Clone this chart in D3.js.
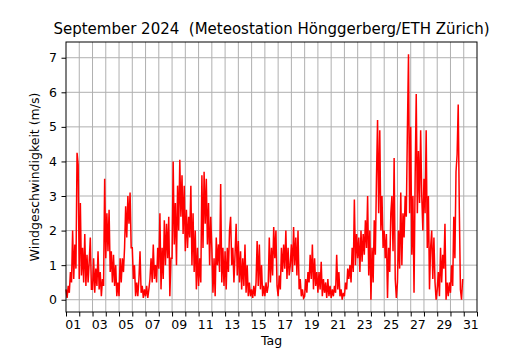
<!DOCTYPE html>
<html>
<head>
<meta charset="utf-8">
<script src="https://cdn.jsdelivr.net/npm/d3@7"></script>
<style>
  body { margin: 0; background: #fff; }
  text { font-family: "DejaVu Sans", sans-serif; }
</style>
</head>
<body>
<div id="chart"></div>
<script>
const title = "September 2024  (Meteostation Hönggerberg/ETH Zürich)";
const xTitle = "Tag";
const yTitle = "Windgeschwindigkeit (m/s)";

// day boundaries (ticks + grid) and labels at midday
const dayTicks = d3.range(1, 33);
const dayLabels = ["01","03","05","07","09","11","13","15","17","19","21","23","25","27","29","31"];
const yTicks = [0, 1, 2, 3, 4, 5, 6, 7];

// wind speed, one row per day, every 2 hours
const samplesPerDay = 12;
const windByDay = [
  [0.3, 0.05, 0.4, 0.2, 0.8, 0.5, 2.0, 0.6, 1.6, 0.9, 4.25, 3.9],
  [0.6, 2.8, 0.7, 1.5, 0.5, 1.9, 0.4, 1.3, 0.5, 1.1, 1.8, 0.3],
  [0.3, 1.2, 0.2, 0.9, 0.4, 1.4, 0.3, 0.8, 0.1, 0.6, 0.4, 3.5],
  [1.2, 2.5, 1.4, 2.6, 0.8, 1.4, 0.5, 1.3, 0.4, 1.0, 0.1, 0.5],
  [0.1, 1.2, 0.5, 1.2, 0.8, 1.5, 2.7, 1.8, 3.0, 2.2, 3.1, 1.5],
  [1.5, 0.6, 1.0, 0.1, 0.5, 0.1, 0.6, 1.4, 0.2, 0.4, 0.05, 0.3],
  [0.1, 0.4, 0.05, 0.3, 0.6, 1.2, 0.5, 1.6, 0.6, 1.0, 0.5, 1.5],
  [0.9, 2.5, 0.3, 1.5, 0.6, 2.3, 1.0, 2.2, 1.2, 2.4, 0.1, 1.2],
  [1.2, 4.0, 1.6, 2.8, 1.0, 3.3, 2.0, 4.05, 2.4, 3.6, 1.9, 3.3],
  [1.4, 2.6, 1.5, 2.4, 1.8, 3.3, 1.0, 2.5, 0.8, 2.0, 0.3, 1.5],
  [0.4, 1.2, 0.5, 3.6, 1.5, 3.7, 2.2, 3.5, 1.6, 2.8, 1.0, 2.4],
  [1.5, 0.2, 1.2, 0.1, 1.8, 1.0, 1.6, 0.8, 3.35, 0.5, 1.5, 0.4],
  [1.4, 0.3, 1.5, 0.8, 2.0, 2.4, 1.0, 1.5, 0.5, 1.3, 2.2, 0.7],
  [1.7, 0.5, 1.4, 0.3, 1.2, 0.4, 1.6, 0.2, 1.0, 0.1, 0.5, 0.1],
  [0.3, 0.05, 0.4, 0.1, 0.5, 1.7, 0.4, 1.6, 0.3, 1.0, 0.1, 0.4],
  [0.1, 0.5, 0.2, 0.4, 1.8, 0.5, 1.5, 0.7, 2.1, 1.2, 2.0, 0.4],
  [0.1, 0.7, 0.3, 1.5, 0.8, 1.6, 0.9, 2.0, 0.6, 1.5, 0.7, 1.0],
  [1.6, 0.8, 2.1, 1.0, 1.8, 0.7, 2.0, 0.3, 0.6, 0.1, 0.3, 0.05],
  [0.1, 0.6, 0.2, 0.8, 0.5, 1.3, 0.6, 1.6, 0.3, 1.2, 0.4, 0.8],
  [0.2, 0.8, 0.3, 1.1, 0.1, 0.6, 0.2, 0.5, 0.05, 0.6, 0.1, 0.4],
  [0.05, 0.3, 0.1, 0.4, 0.2, 1.3, 0.3, 0.8, 0.1, 0.3, 0.0, 0.2],
  [0.1, 0.5, 0.3, 0.9, 0.6, 1.0, 0.5, 1.5, 0.8, 2.9, 1.0, 1.9],
  [1.2, 1.8, 0.8, 2.0, 1.1, 1.9, 1.3, 2.3, 1.5, 3.0, 0.7, 2.0],
  [0.0, 1.5, 0.5, 2.3, 1.3, 3.5, 5.2, 2.5, 4.9, 2.0, 3.0, 1.5],
  [2.0, 1.2, 1.9, 0.05, 1.5, 0.8, 2.5, 3.0, 1.4, 4.1, 0.6, 0.05],
  [0.5, 2.0, 0.9, 3.1, 1.0, 2.5, 1.8, 3.0, 2.4, 4.9, 7.1, 2.5],
  [5.0, 1.3, 3.0, 0.2, 3.5, 5.95, 2.5, 4.3, 2.8, 4.9, 3.0, 2.0],
  [3.5, 2.5, 4.9, 1.5, 3.0, 0.3, 1.5, 2.0, 0.6, 1.8, 0.5, 0.0],
  [0.3, 0.8, 0.1, 1.5, 0.5, 1.3, 0.9, 2.2, 0.0, 0.5, 0.1, 0.5],
  [0.2, 1.0, 0.4, 2.4, 1.2, 3.7, 4.2, 5.65, 2.6, 0.3, 0.0, 0.6]
];

const series = windByDay.flatMap((vals, d) =>
  vals.map((v, i) => ({ day: d + 1 + i / samplesPerDay, speed: v })));

const width = 530, height = 350;
const margin = {top: 42, right: 53, bottom: 38, left: 66};
const innerWidth = width - margin.left - margin.right;
const innerHeight = height - margin.top - margin.bottom;

const svg = d3.select("#chart")
    .append("svg")
    .attr("width", width)
    .attr("height", height);

svg.append("rect").attr("width", width).attr("height", height).attr("fill", "#fff");

const g = svg.append("g")
    .attr("transform", `translate(${margin.left},${margin.top})`);

const x = d3.scaleLinear().domain([1, 32]).range([0, innerWidth]);
const yMax = d3.max(series, d => d.speed);
const pad = yMax * 0.05;
const y = d3.scaleLinear().domain([-pad, yMax + pad]).range([innerHeight, 0]);

// grid
g.append("g")
    .selectAll("line.vgrid")
    .data(dayTicks.slice(1, -1))
    .join("line")
    .attr("x1", d => x(d)).attr("x2", d => x(d))
    .attr("y1", 0).attr("y2", innerHeight)
    .attr("stroke", "#b0b0b0").attr("stroke-width", 1);

g.append("g")
    .selectAll("line.hgrid")
    .data(yTicks)
    .join("line")
    .attr("x1", 0).attr("x2", innerWidth)
    .attr("y1", d => y(d)).attr("y2", d => y(d))
    .attr("stroke", "#b0b0b0").attr("stroke-width", 1);

// data line
const line = d3.line()
    .x(d => x(d.day))
    .y(d => y(d.speed));

g.append("path")
    .datum(series)
    .attr("d", line)
    .attr("fill", "none")
    .attr("stroke", "#ff0000")
    .attr("stroke-width", 1.5)
    .attr("stroke-linejoin", "miter");

// axes
const xTickAxis = g.append("g")
    .attr("transform", `translate(0,${innerHeight})`)
    .call(d3.axisBottom(x).tickValues(dayTicks).tickSize(4.5).tickFormat(""));
xTickAxis.selectAll(".tick text").remove();

const xLabelAxis = g.append("g")
    .attr("transform", `translate(0,${innerHeight})`)
    .call(d3.axisBottom(x)
        .tickValues(dayLabels.map(s => +s + 0.5))
        .tickSize(0).tickPadding(8)
        .tickFormat((d, i) => dayLabels[i]));

const yAxis = g.append("g")
    .call(d3.axisLeft(y).tickValues(yTicks).tickSize(4.5).tickPadding(4.5).tickFormat(d3.format("d")));

[xTickAxis, xLabelAxis, yAxis].forEach(a => {
    a.select(".domain").remove();
    a.selectAll(".tick line").attr("stroke", "#000").attr("stroke-width", 1);
    a.selectAll(".tick text")
        .attr("fill", "#000")
        .style("font-size", "12.5px")
        .style("font-family", "'DejaVu Sans', sans-serif");
});

// frame
g.append("rect")
    .attr("x", 0).attr("y", 0)
    .attr("width", innerWidth).attr("height", innerHeight)
    .attr("fill", "none")
    .attr("stroke", "#000")
    .attr("stroke-width", 1);

// titles
svg.append("text")
    .attr("x", margin.left + innerWidth / 2)
    .attr("y", 34)
    .attr("text-anchor", "middle")
    .style("font-size", "15px")
    .style("white-space", "pre")
    .text(title);

svg.append("text")
    .attr("x", margin.left + innerWidth / 2)
    .attr("y", 345)
    .attr("text-anchor", "middle")
    .style("font-size", "12.5px")
    .text(xTitle);

svg.append("text")
    .attr("transform", "rotate(-90)")
    .attr("x", -(margin.top + innerHeight / 2))
    .attr("y", 39)
    .attr("text-anchor", "middle")
    .style("font-size", "12.5px")
    .text(yTitle);
</script>
</body>
</html>
